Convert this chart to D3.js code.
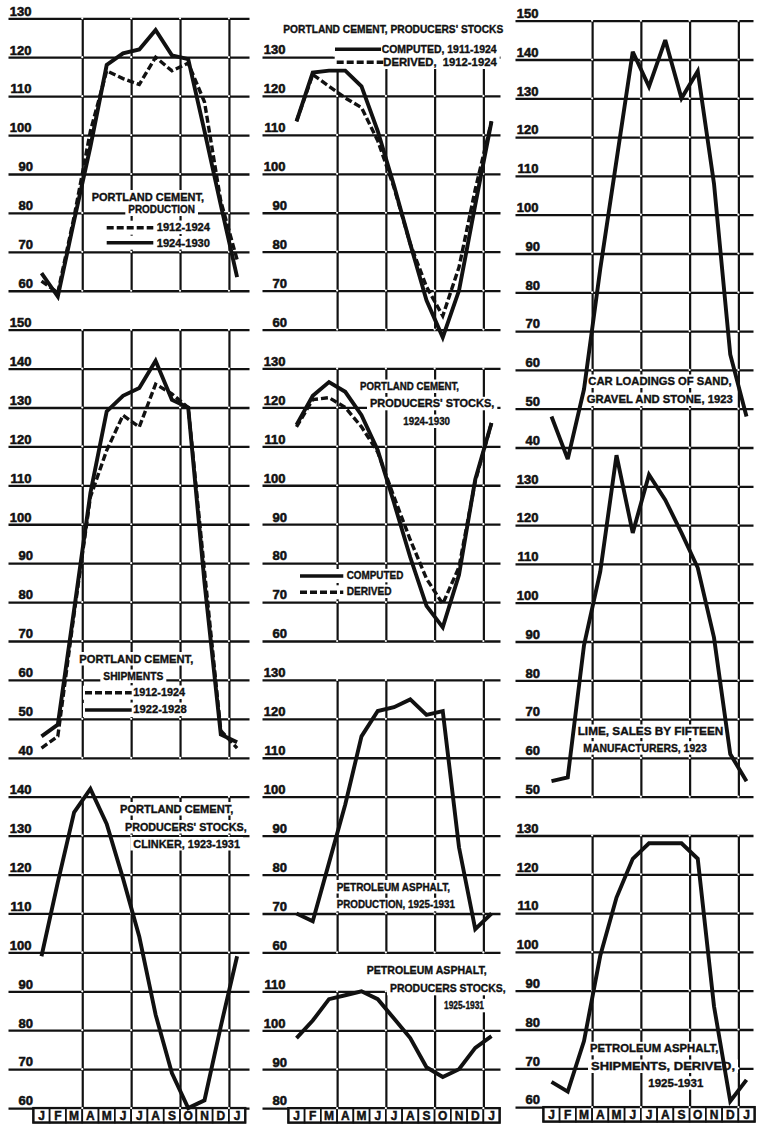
<!DOCTYPE html>
<html><head><meta charset="utf-8">
<script src="https://cdn.jsdelivr.net/npm/d3@7"></script>
<style>body{margin:0;background:#fff}svg{display:block}</style>
</head><body>
<svg id="c" width="762" height="1137"></svg>
<script>
// ---------- DATA ----------
const months = ["J","F","M","A","M","J","J","A","S","O","N","D","J"];

const ticksL1 = [130,120,110,100,90,80,70,60];
const ticksL2 = [150,140,130,120,110,100,90,80,70,60,50,40];
const ticksL3 = [140,130,120,110,100,90,80,70,60];
const ticksM1 = [130,120,110,100,90,80,70,60];
const ticksM2 = [130,120,110,100,90,80,70,60];
const ticksM3 = [130,120,110,100,90,80,70,60];
const ticksM4 = [110,100,90,80];
const ticksR1 = [150,140,130,120,110,100,90,80,70,60,50,40];
const ticksR2 = [130,120,110,100,90,80,70,60,50];
const ticksR3 = [130,120,110,100,90,80,70,60];

// Portland cement, production
const prodDerived1912 = [62.5,59.5,79,101,116.5,114.5,113,120,116.5,118.5,108.5,83,68];
const prod1924 = [64.5,58.5,78,97,118,121,122,127,120.5,119.5,101,82,63.5];
// Portland cement, shipments
const ship1912 = [42.5,45.5,77,107,119,128,125,136,133.5,130,88,47,42.5];
const ship1922 = [45.5,48.5,78,108,129,133,135,142,132,130,85,46,44];
// Portland cement, producers' stocks, clinker
const clinker = [99,118,136,142,133,119,104,84,69,60,62,81,99];
// Portland cement, producers' stocks 1911/1912-1924
const stocksComputed1911 = [113.5,126,126.5,126.5,122.5,111,97,82,67.5,58,70,92,113.5];
const stocksDerived1912 = [113.5,125.5,122.5,119.5,117,108.5,96.5,82,71,63.5,76,96,113.5];
// Portland cement, producers' stocks 1924-1930
const stocksComputed1924 = [115.5,123,126.5,124,118,109,95.5,81.5,69,63.5,77,101.5,116];
const stocksDerived1924 = [115,122,122.5,120,115,108.5,97,86,76,69.5,79,101,116];
// Petroleum asphalt
const asphaltProduction = [70,68,83,98,115.5,122,123,125,121,122,87,66,70];
const asphaltStocks = [98,102.5,108,109,110,108,103,98,90.5,88,90,95.5,98.5];
const asphaltShipments = [66.5,64,77,99,114,124,128,128,128,124,86,61.5,67];
// Car loadings, lime
const carLoadings = [48,37,55,86,114,142,133,145,130,137,108,64,48];
const limeSales = [54,55,89,108,138,118,133,126.5,118,109,91,61,54];

// ---------- LAYOUT ----------
const cols = [
  {x0:41.5, xs:16.3, yTop:18.3, ys:38.92, l0:-33, l1:208},
  {x0:296.5, xs:16.25, yTop:18.1, ys:38.93, l0:-34, l1:204},
  {x0:551.5, xs:16.25, yTop:20.7, ys:38.8, l0:-36, l1:202}
];
const panels = [
  {col:0, slot:0, ticks:ticksL1, series:[[prodDerived1912,true],[prod1924,false]]},
  {col:0, slot:8, ticks:ticksL2, series:[[ship1912,true],[ship1922,false]]},
  {col:0, slot:20, ticks:ticksL3, series:[[clinker,false]], months:true},
  {col:1, slot:1, ticks:ticksM1, series:[[stocksDerived1912,true],[stocksComputed1911,false]]},
  {col:1, slot:9, ticks:ticksM2, series:[[stocksDerived1924,true],[stocksComputed1924,false]]},
  {col:1, slot:17, ticks:ticksM3, series:[[asphaltProduction,false]]},
  {col:1, slot:25, ticks:ticksM4, series:[[asphaltStocks,false]], months:true},
  {col:2, slot:0, ticks:ticksR1, series:[[carLoadings,false]], extend:1},
  {col:2, slot:12, ticks:ticksR2, series:[[limeSales,false]]},
  {col:2, slot:21, ticks:ticksR3, series:[[asphaltShipments,false]], months:true}
];
const notes = [
  {x:91.7, y:200.5, t:"PORTLAND CEMENT,", w:112.3},
  {x:128.3, y:213, t:"PRODUCTION", w:66.7},
  {x:156.7, y:231, t:"1912-1924", w:53.3},
  {x:156.7, y:246.5, t:"1924-1930", w:53.3},
  {x:79.3, y:662.5, t:"PORTLAND CEMENT,", w:114},
  {x:103.3, y:680, t:"SHIPMENTS", w:60},
  {x:133.3, y:696, t:"1912-1924", w:51.7},
  {x:133.3, y:713, t:"1922-1928", w:53.4},
  {x:120, y:812.5, t:"PORTLAND CEMENT,", w:113.3},
  {x:125, y:830.5, t:"PRODUCERS' STOCKS,", w:121.7},
  {x:133.3, y:847.5, t:"CLINKER, 1923-1931", w:106.7},
  {x:283.3, y:33.3, t:"PORTLAND CEMENT, PRODUCERS' STOCKS", w:220},
  {x:381.7, y:53.3, t:"COMPUTED, 1911-1924", w:115},
  {x:383.3, y:66, t:"DERIVED,\u00a0\u00a01912-1924", w:113.4},
  {x:360, y:390, t:"PORTLAND CEMENT,", w:99},
  {x:370, y:407.3, t:"PRODUCERS' STOCKS,", w:124.3},
  {x:403.3, y:425, t:"1924-1930", w:46.7},
  {x:346.7, y:579.3, t:"COMPUTED", w:56.6},
  {x:346.7, y:595, t:"DERIVED", w:45},
  {x:336.7, y:890.5, t:"PETROLEUM ASPHALT,", w:113.3},
  {x:336.7, y:908.3, t:"PRODUCTION, 1925-1931", w:118.3},
  {x:366.7, y:974.3, t:"PETROLEUM ASPHALT,", w:120},
  {x:390, y:992.3, t:"PRODUCERS STOCKS,", w:115.7},
  {x:444, y:1009.3, t:"1925-1931", w:40},
  {x:588.3, y:385, t:"CAR LOADINGS OF SAND,", w:143.4},
  {x:586.7, y:403, t:"GRAVEL AND STONE, 1923", w:146},
  {x:577.7, y:735, t:"LIME, SALES BY FIFTEEN", w:145.6},
  {x:583.3, y:751.7, t:"MANUFACTURERS, 1923", w:123.4},
  {x:590, y:1052.3, t:"PETROLEUM ASPHALT,", w:128.3},
  {x:591, y:1070, t:"SHIPMENTS, DERIVED,", w:144},
  {x:648.3, y:1086.7, t:"1925-1931", w:55}
];
const samples = [
  {x1:106.7,x2:153.3,y:227.7,dash:true},{x1:106.7,x2:153.3,y:242.7,dash:false},
  {x1:85,x2:131.7,y:692.7,dash:true},{x1:85,x2:131.7,y:710,dash:false},
  {x1:335,x2:381,y:49.3,dash:false},{x1:336.7,x2:383.3,y:62.3,dash:true},
  {x1:300,x2:343.3,y:576,dash:false},{x1:300,x2:343.3,y:592.3,dash:true}
];

// ---------- DRAW ----------
const FONT = "'Liberation Sans', Arial, sans-serif";
const INK = "#111";
const svg = d3.select("#c");
svg.append("rect").attr("width",762).attr("height",1137).attr("fill","#fff");
const gridL = svg.append("g"), dotL = svg.append("g"), bgL = svg.append("g"),
      dataL = svg.append("g"), textL = svg.append("g");

panels.forEach(p => {
  const c = cols[p.col], n = p.ticks.length;
  const yT = c.yTop + p.slot*c.ys, yB = c.yTop + (p.slot+n-1)*c.ys;
  const y = d3.scaleLinear().domain([p.ticks[n-1], p.ticks[0]]).range([yB, yT]);
  const x = d3.scaleLinear().domain([0,12]).range([c.x0, c.x0+12*c.xs]);
  const vx = [2.5,5.5,8.5,11.5];
  // horizontal grid + labels
  const gy = gridL.append("g").attr("transform",`translate(${c.x0+c.l0},0)`)
    .call(d3.axisRight(y).tickValues(p.ticks).tickSize(c.l1-c.l0).tickFormat(d3.format("d")));
  gy.select(".domain").remove();
  gy.attr("font-family",FONT).attr("font-size",13);
  gy.selectAll("line").attr("stroke",INK).attr("stroke-width",2.3);
  gy.selectAll("text").attr("x",d=> d>=100?23:24.5).attr("dy",-3.2).attr("text-anchor","end")
    .attr("font-weight","bold").attr("fill",INK).attr("stroke",INK).attr("stroke-width",0.55);
  // vertical grid
  const yEnd = p.extend ? c.yTop + (p.slot+n-1+p.extend)*c.ys : yB;
  const gx = gridL.append("g").attr("transform",`translate(0,${yEnd})`)
    .call(d3.axisBottom(x).tickValues(vx).tickSize(-(yEnd-yT)).tickFormat(""));
  gx.select(".domain").remove();
  gx.selectAll("line").attr("stroke",INK).attr("stroke-width",2.2);
  // white specks at intersections
  p.ticks.forEach(t => vx.forEach(v => {
    dotL.append("circle").attr("cx",x(v)).attr("cy",y(t)).attr("r",1.1).attr("fill","#fff");
  }));
  // month boxes
  if (p.months) {
    const mb = gridL.append("g");
    const bh = 14.5;
    mb.selectAll("rect.m").data(months).join("rect")
      .attr("x",(d,i)=>x(i)-c.xs/2).attr("y",yB).attr("width",c.xs).attr("height",bh)
      .attr("fill","#fff").attr("stroke",INK).attr("stroke-width",1.7);
    mb.append("rect").attr("x",x(0)-c.xs/2).attr("y",yB).attr("width",13*c.xs).attr("height",bh)
      .attr("fill","none").attr("stroke",INK).attr("stroke-width",2.3);
    mb.selectAll("text").data(months).join("text")
      .attr("x",(d,i)=>x(i)).attr("y",yB+12).attr("text-anchor","middle")
      .attr("font-family",FONT).attr("font-size",12).attr("font-weight","bold")
      .attr("fill",INK).attr("stroke",INK).attr("stroke-width",0.45).text(d=>d);
  }
  // data lines
  const line = d3.line().x((d,i)=>x(i)).y(d=>y(d));
  p.series.forEach(([vals,dash]) => {
    dataL.append("path").attr("d",line(vals)).attr("fill","none").attr("stroke",INK)
      .attr("stroke-width",dash?3.4:3.9).attr("stroke-linejoin","miter").attr("stroke-miterlimit",3)
      .attr("stroke-dasharray",dash?"7,3":null);
  });
});

// legend samples & annotation text with white backgrounds
samples.forEach(s => {
  bgL.append("rect").attr("x",s.x1-2).attr("y",s.y-7).attr("width",s.x2-s.x1+4).attr("height",14).attr("fill","#fff");
  textL.append("line").attr("x1",s.x1).attr("x2",s.x2).attr("y1",s.y).attr("y2",s.y)
    .attr("stroke",INK).attr("stroke-width",3.4).attr("stroke-dasharray",s.dash?"7,3":null);
});
notes.forEach(d => {
  bgL.append("rect").attr("x",d.x-3).attr("y",d.y-10.5).attr("width",d.w+6).attr("height",13.5).attr("fill","#fff");
  textL.append("text").attr("x",d.x).attr("y",d.y).attr("font-family",FONT).attr("font-size",10.5)
    .attr("font-weight","bold").attr("fill",INK).attr("stroke",INK).attr("stroke-width",0.35)
    .attr("textLength",d.w).attr("lengthAdjust","spacingAndGlyphs").text(d.t);
});
</script>
</body></html>
